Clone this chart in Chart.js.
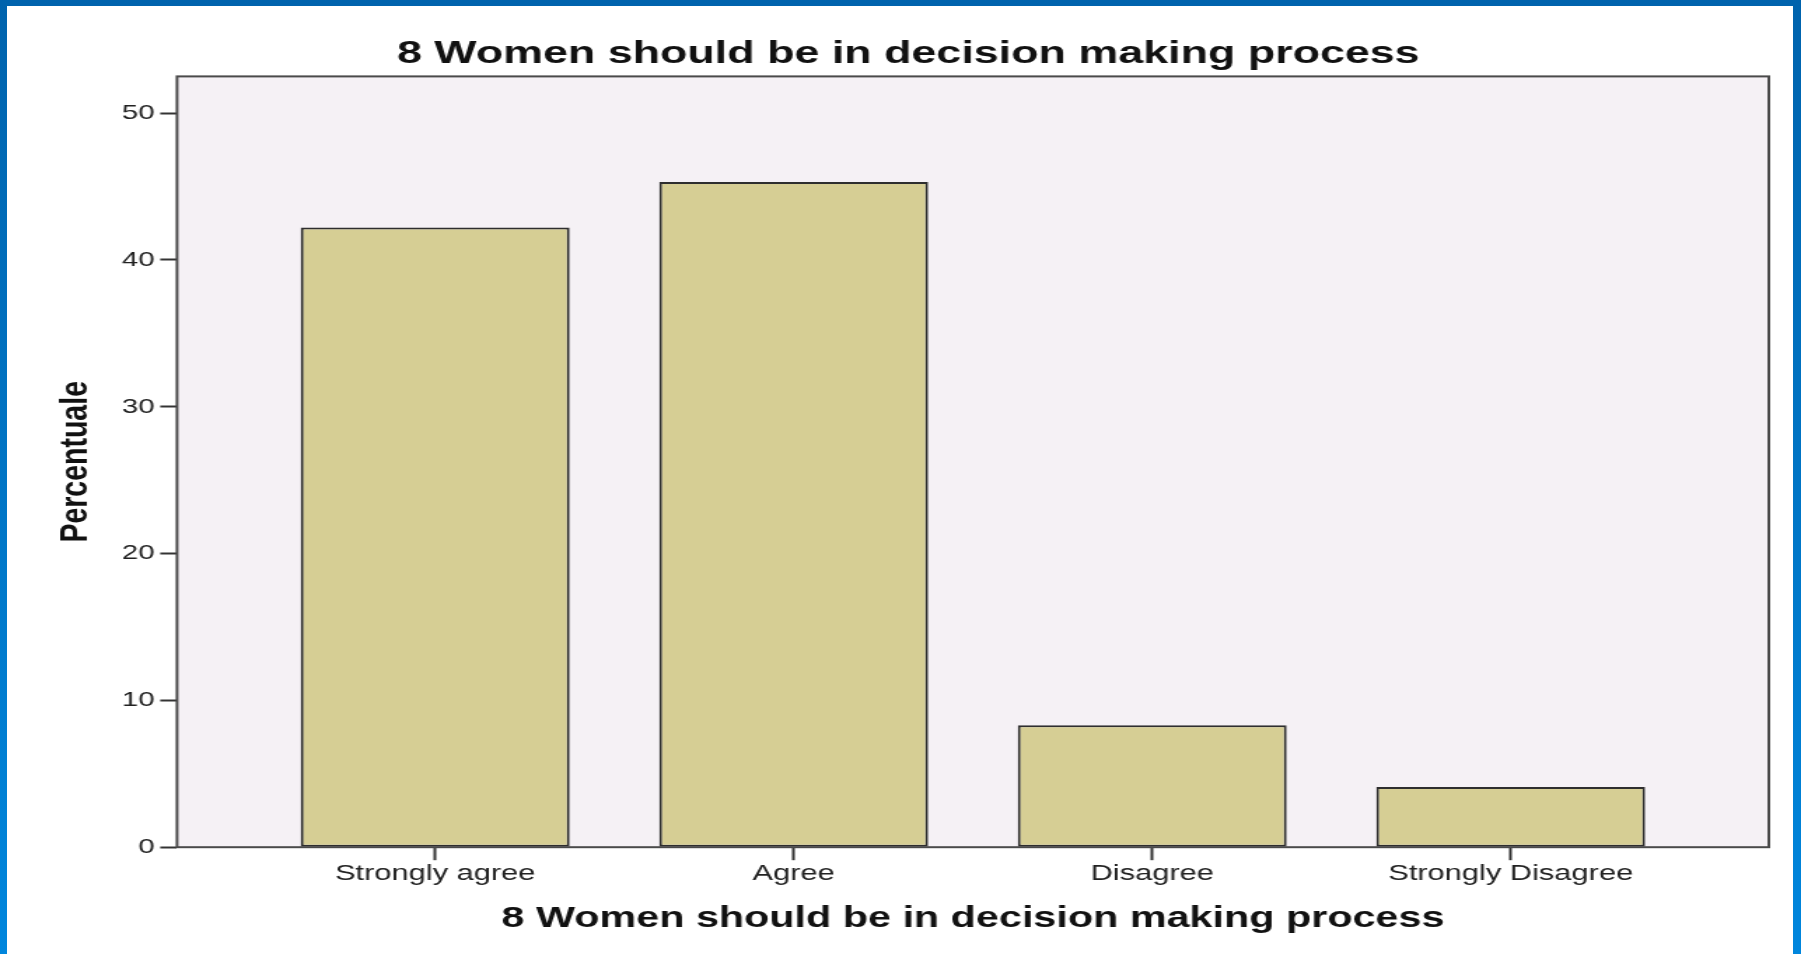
<!DOCTYPE html>
<html>
<head>
<meta charset="utf-8">
<script src="https://cdn.jsdelivr.net/npm/chart.js@4"></script>
<style>
    html, body { margin: 0; padding: 0; }
    body {
        width: 1801px;
        height: 954px;
        overflow: hidden;
        position: relative;
        background: linear-gradient(to bottom, #0063ad, #0086dd);
    }
    #panel {
        position: absolute;
        left: 7px;
        top: 6px;
        width: 1786px;
        height: 948px;
        background: #ffffff;
    }
    /* the original SPSS chart is stretched sideways on the slide */
    #wrap {
        position: absolute;
        left: 0;
        top: 0;
        width: 1286px;
        height: 954px;
        transform: scaleX(1.4005);
        transform-origin: 0 0;
    }
</style>
</head>
<body>
<div id="panel"></div>
<div id="wrap"><canvas id="chart" width="1286" height="954"></canvas></div>
<script>
const chartTitle = '8 Women should be in decision making process';
const categories = ['Strongly agree', 'Agree', 'Disagree', 'Strongly Disagree'];
const percentages = [42.2, 45.3, 8.3, 4.1];
const yTicks = [0, 10, 20, 30, 40, 50];

// plot background + frame around the chart area
const framePlugin = {
    id: 'frame',
    beforeDraw(chart) {
        const { ctx, chartArea: a } = chart;
        ctx.save();
        ctx.fillStyle = '#f5f1f5';
        ctx.fillRect(a.left, a.top, a.right - a.left, a.bottom - a.top);
        ctx.restore();
    },
    afterDatasetsDraw(chart) {
        const { ctx, chartArea: a } = chart;
        ctx.save();
        ctx.strokeStyle = '#4a4a4a';
        ctx.lineWidth = 2;
        ctx.strokeRect(a.left, a.top, a.right - a.left, a.bottom - a.top);
        ctx.restore();
    },
};

new Chart(document.getElementById('chart'), {
    type: 'bar',
    data: {
        datasets: [
            {
                label: 'Percentuale',
                data: percentages.map((v, i) => ({ x: i, y: v })),
                backgroundColor: '#d6ce94',
                borderColor: '#2e2e2e',
                borderWidth: 2,
                borderSkipped: false,
                barPercentage: 0.75,
                categoryPercentage: 1,
            },
        ],
    },
    options: {
        responsive: false,
        animation: false,
        devicePixelRatio: 1,
        layout: {
            padding: { top: 35, left: 34, right: 23, bottom: 14 },
        },
        plugins: {
            legend: { display: false },
            tooltip: { enabled: false },
            title: {
                display: true,
                text: chartTitle,
                color: '#111',
                font: { family: 'Liberation Sans, Arial, sans-serif', size: 32, weight: 'bold' },
                padding: { top: 0, bottom: 3 },
            },
        },
        scales: {
            x: {
                type: 'linear',
                offset: false,
                min: -0.72,
                max: 3.72,
                afterBuildTicks(scale) {
                    scale.ticks = categories.map((_, i) => ({ value: i }));
                },
                ticks: {
                    callback: (v) => categories[v],
                    color: '#222',
                    padding: 1,
                    maxRotation: 0,
                    autoSkip: false,
                    font: { family: 'Liberation Sans, Arial, sans-serif', size: 22 },
                },
                grid: {
                    offset: false,
                    drawOnChartArea: false,
                    tickLength: 13,
                    tickWidth: 2,
                    tickColor: '#333',
                },
                border: { display: false },
                title: {
                    display: true,
                    text: chartTitle,
                    color: '#111',
                    font: { family: 'Liberation Sans, Arial, sans-serif', size: 29.5, weight: 'bold' },
                    padding: { top: 13, bottom: 3 },
                },
            },
            y: {
                min: 0,
                max: 52.5,
                afterBuildTicks(scale) {
                    scale.ticks = yTicks.map((v) => ({ value: v }));
                },
                afterFit(scale) {
                    scale.width = 92.4;
                },
                ticks: {
                    color: '#222',
                    padding: 4,
                    font: { family: 'Liberation Sans, Arial, sans-serif', size: 21 },
                },
                grid: {
                    drawOnChartArea: false,
                    tickLength: 12,
                    tickWidth: 2,
                    tickColor: '#333',
                },
                border: { display: false },
                title: {
                    display: true,
                    text: 'Percentuale',
                    color: '#111',
                    font: { family: 'Liberation Sans, Arial, sans-serif', size: 28.5, weight: 'bold' },
                    padding: { top: 3, bottom: 0 },
                },
            },
        },
    },
    plugins: [framePlugin],
});
</script>
</body>
</html>
